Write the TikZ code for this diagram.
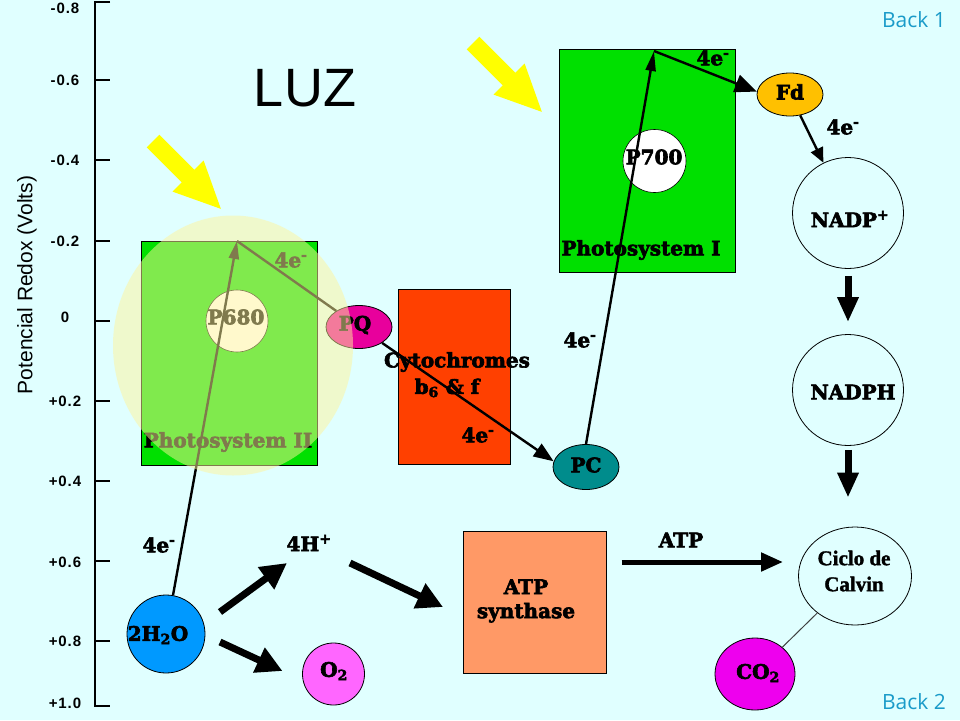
\documentclass[tikz,border=0pt]{standalone}
\usepackage{fontspec}
\setmainfont{DejaVu Serif}[BoldFeatures={FakeBold=3}]
\newfontfamily\sansf{Liberation Sans}
\newfontfamily\axisf[LetterSpace=6]{Liberation Sans}
\newfontfamily\backf{Open Sans}
\newfontfamily\calvf{Liberation Serif}[BoldFeatures={FakeBold=1.5}]
\usetikzlibrary{arrows.meta,shapes.geometric}
\definecolor{bg}{HTML}{E0FFFF}
\definecolor{psgreen}{HTML}{00E000}
\definecolor{cytred}{HTML}{FF4000}
\definecolor{pqmag}{HTML}{E8009C}
\definecolor{pcteal}{HTML}{008C8C}
\definecolor{fdgold}{HTML}{FFC000}
\definecolor{h2oblue}{HTML}{0099FF}
\definecolor{o2pink}{HTML}{FF66FF}
\definecolor{co2mag}{HTML}{EE00EE}
\definecolor{atpsal}{HTML}{FF9966}
\definecolor{backc}{HTML}{1A9BC9}
\definecolor{glowc}{HTML}{FFF59B}
\definecolor{luzyellow}{HTML}{FFFF00}
\begin{document}
\begin{tikzpicture}[x=1pt,y=-1pt,
  lbl/.style={font=\bfseries\fontsize{20}{22}\selectfont, inner sep=0pt},
  axlbl/.style={font=\axisf\bfseries\fontsize{15}{17}\selectfont, inner sep=0pt},
  mol/.style={ellipse, draw=black, line width=0.8pt, inner sep=0pt},
  ring/.style={circle, draw=black, line width=0.8pt, inner sep=0pt},
  box/.style={draw=black, line width=0.8pt, inner sep=0pt},
  eline/.style={line width=2.4pt, draw=black},
  fat/.style={line width=7pt, draw=black, -{Triangle[length=26pt,width=26pt]}},
  fatv/.style={line width=7pt, draw=black, -{Triangle[length=25pt,width=20pt]}},
  fath/.style={line width=5pt, draw=black, -{Triangle[length=22pt,width=18pt]}},
  sun/.style={draw=luzyellow, line width=18pt, -{Triangle[length=48pt,width=40pt]}},
  backlbl/.style={font=\backf\fontsize{21}{24}\selectfont, text=backc, inner sep=0pt}]
\useasboundingbox (0,0) rectangle (960,720);
\fill[bg] (0,0) rectangle (960,720);

% axis
\draw[line width=1.5pt] (110,2) -- (95,2) -- (95,706) -- (110,706);
\foreach \yy in {80,160,241,321,401,481,561,641}
  \draw[line width=1.5pt] (95,\yy) -- (110,\yy);
\foreach \v/\yy [count=\i] in {-0.8/8,-0.6/80,-0.4/160,-0.2/241,0/317,+0.2/401,+0.4/481,+0.6/562,+0.8/641,+1.0/703}
  \node[axlbl] (ax\i) at (65,\yy) {\v};
\node[rotate=90, font=\sansf\fontsize{21}{24}\selectfont, inner sep=0pt] (ytitle) at (27,285) {Potencial Redox (Volts)};

\node[font=\sansf\fontsize{54}{58}\selectfont, inner sep=0pt] (luz) at (305,88) {LUZ};

% light arrows
\draw[sun] (153,141) -- (222,210);
\draw[sun] (473,43) -- (543,113);

% Photosystem II (under the glow)
\node[box, fill=psgreen, minimum width=176pt, minimum height=224pt] (ps2) at (229,353) {};
\node[ring, fill=white, line width=0.6pt, minimum size=62pt] (p680c) at (237,321) {};
\node[lbl] (p680) at (236,317) {P680};
\node[lbl] (ps2l) at (228,442) {Photosystem II};
\coordinate (ps2top) at (237,241);
\node[mol, fill=pqmag, minimum width=66pt, minimum height=43pt] (pq) at (359,327) {};
\node[lbl] (pql) at (355,325) {PQ};
\node[lbl] (e1) at (291,260) {4e\textsuperscript{-}};
\node[ring, fill=h2oblue, minimum size=78pt] (w) at (166,634) {};
\draw[eline, -{Triangle[length=18pt,width=10pt]}] (w) -- (ps2top);
\draw[eline] (ps2top) -- (pq);

% glow
\node[ellipse, fill=glowc, fill opacity=0.5, minimum width=240pt, minimum height=260pt, inner sep=0pt] (glow) at (233,345.5) {};

% Cytochromes
\node[box, fill=cytred, minimum width=112pt, minimum height=175pt] (cyt) at (454,376.5) {};
\node[lbl] (cytl) at (457,362) {Cytochromes};
\node[lbl] (cytl2) at (447,388) {b\textsubscript{6} \& f};

% PC
\node[mol, fill=pcteal, minimum width=66pt, minimum height=45pt] (pc) at (586,467) {};
\node[lbl] (pcl) at (586,465) {PC};
\draw[eline, -{Triangle[length=20pt,width=15pt]}] (pq) -- (pc.170);
\node[lbl] (e2) at (478,435) {4e\textsuperscript{-}};

% Photosystem I
\node[box, fill=psgreen, minimum width=176pt, minimum height=223pt] (ps1) at (647,160.5) {};
\node[ring, fill=white, line width=0.6pt, minimum size=63pt] (p700c) at (654.5,161) {};
\node[lbl] (p700) at (654,157) {P700};
\node[lbl] (ps1l) at (641,250) {Photosystem I};
\coordinate (ps1top) at (654,51);
\draw[eline, -{Triangle[length=20pt,width=10pt]}] (pc.north) -- (ps1top);
\node[lbl] (e3) at (580,340) {4e\textsuperscript{-}};

% Fd
\node[mol, fill=fdgold, minimum width=66pt, minimum height=43pt] (fd) at (790,94.5) {};
\node[lbl] (fdl) at (790,92) {Fd};
\draw[eline, -{Triangle[length=22pt,width=18pt]}] (ps1top) -- (fd.175);
\node[lbl] (e4) at (713,58) {4e\textsuperscript{-}};

% NADP+ / NADPH / Calvin
\node[ring, minimum size=111pt] (nadp) at (848,213) {};
\node[lbl] (nadpl) at (850,219) {NADP\textsuperscript{+}};
\draw[eline, -{Triangle[length=15pt,width=13pt]}] (fd) -- (nadp);
\node[lbl] (e5) at (843,127) {4e\textsuperscript{-}};
\node[ring, minimum size=111pt] (nadph) at (848,390) {};
\node[lbl] (nadphl) at (853,392) {NADPH};
\draw[fatv, shorten <=7pt, shorten >=12pt] (nadp.south) -- (nadph.north);
\node[ellipse, draw=black, line width=0.8pt, minimum width=113pt, minimum height=98pt, inner sep=0pt] (calvin) at (855,576) {};
\node[font=\calvf\bfseries\fontsize{21}{26}\selectfont, align=center, inner sep=0pt] (calvinl) at (854,571) {Ciclo de\\Calvin};
\draw[fatv, shorten <=4pt, shorten >=29pt] (nadph.south) -- (nadph.south |- calvin.north);

% CO2
\node[mol, fill=co2mag, minimum width=80pt, minimum height=72pt] (co2) at (755,674) {};
\node[lbl] (co2l) at (758,673) {CO\textsubscript{2}};
\draw[line width=1pt, draw=black!75] (co2) -- (calvin);

% ATP synthase
\node[box, fill=atpsal, minimum width=143pt, minimum height=142pt] (atps) at (534.5,602) {};
\node[lbl, align=center, font=\bfseries\fontsize{20}{24}\selectfont] (atpsl) at (526,601) {ATP\\synthase};
\draw[fath] ([shift={(87,-40)}]atps.center) -- ([shift={(-72,-14)}]calvin.center);
\node[lbl] (atpl) at (681,540) {ATP};

% water splitting
\node[lbl] (wl) at (158,635) {2H\textsubscript{2}O};
\node[lbl] (e6) at (159,545) {4e\textsuperscript{-}};
\node[lbl] (h4) at (309,543) {4H\textsuperscript{+}};
\node[ring, fill=o2pink, minimum size=62pt] (o2) at (333.5,674) {};
\node[lbl] (o2l) at (334,671) {O\textsubscript{2}};
\draw[fat] ([shift={(54,-22)}]w.center) -- ([shift={(-22,20)}]h4.center);
\draw[fat] ([shift={(41,20)}]h4.center) -- ([shift={(-91.5,5)}]atps.center);
\draw[fat] ([shift={(54,8)}]w.center) -- ([shift={(-51,-3)}]o2.center);

% navigation labels
\node[backlbl] (back1) at (914,20) {Back 1};
\node[backlbl] (back2) at (914,702) {Back 2};
\end{tikzpicture}
\end{document}
